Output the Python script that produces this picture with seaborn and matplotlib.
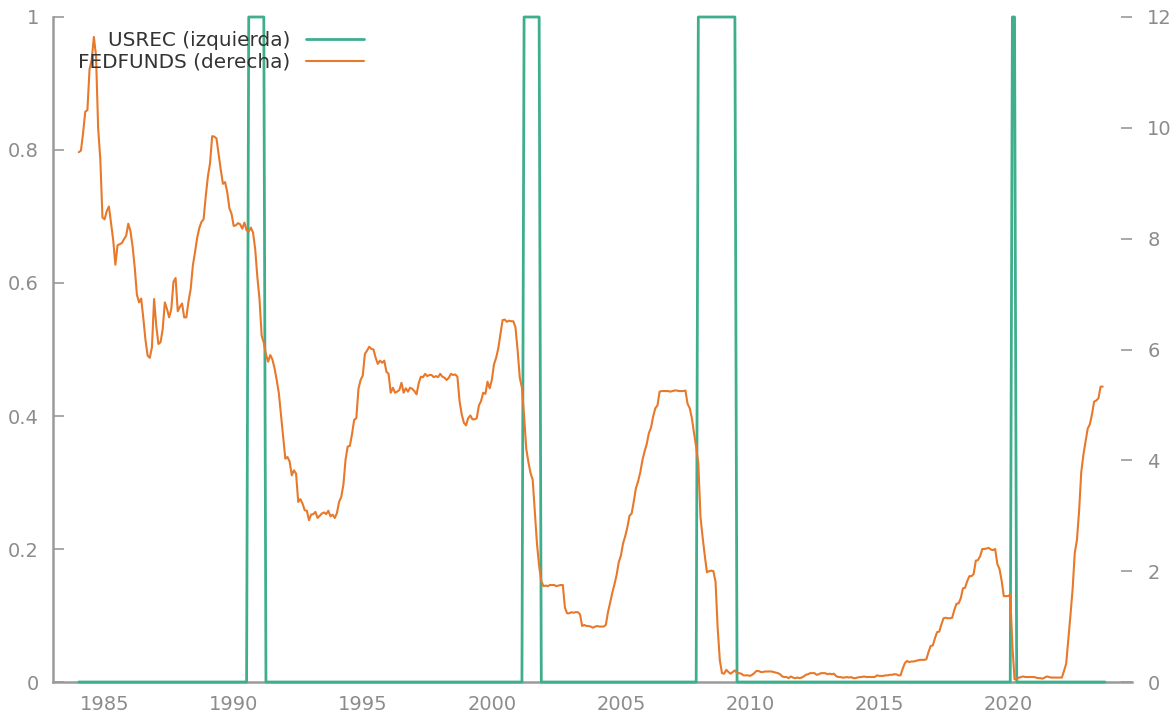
import numpy as np
import pandas as pd
import matplotlib
matplotlib.use("Agg")
import matplotlib.pyplot as plt
import seaborn as sns

# FEDFUNDS mensual (%), enero 1984 - agosto 2023
fedfunds = [
    9.56, 9.59, 9.91, 10.29, 10.32, 11.06, 11.23, 11.64, 11.30, 9.99, 9.43, 8.38,   # 1984
    8.35, 8.50, 8.58, 8.27, 7.97, 7.53, 7.88, 7.90, 7.92, 7.99, 8.05, 8.27,         # 1985
    8.14, 7.86, 7.48, 6.99, 6.85, 6.92, 6.56, 6.17, 5.89, 5.85, 6.04, 6.91,         # 1986
    6.43, 6.10, 6.13, 6.37, 6.85, 6.73, 6.58, 6.73, 7.22, 7.29, 6.69, 6.77,         # 1987
    6.83, 6.58, 6.58, 6.87, 7.09, 7.51, 7.75, 8.01, 8.19, 8.30, 8.35, 8.76,         # 1988
    9.12, 9.36, 9.85, 9.84, 9.81, 9.53, 9.24, 8.99, 9.02, 8.84, 8.55, 8.45,         # 1989
    8.23, 8.24, 8.28, 8.26, 8.18, 8.29, 8.15, 8.13, 8.20, 8.11, 7.81, 7.31,         # 1990
    6.91, 6.25, 6.12, 5.91, 5.78, 5.90, 5.82, 5.66, 5.45, 5.21, 4.81, 4.43,         # 1991
    4.03, 4.06, 3.98, 3.73, 3.82, 3.76, 3.25, 3.30, 3.22, 3.10, 3.09, 2.92,         # 1992
    3.02, 3.03, 3.07, 2.96, 3.00, 3.04, 3.06, 3.03, 3.09, 2.99, 3.02, 2.96,         # 1993
    3.05, 3.25, 3.34, 3.56, 4.01, 4.25, 4.26, 4.47, 4.73, 4.76, 5.29, 5.45,         # 1994
    5.53, 5.92, 5.98, 6.05, 6.01, 6.00, 5.85, 5.74, 5.80, 5.76, 5.80, 5.60,         # 1995
    5.56, 5.22, 5.31, 5.22, 5.24, 5.27, 5.40, 5.22, 5.30, 5.24, 5.31, 5.29,         # 1996
    5.25, 5.19, 5.39, 5.51, 5.50, 5.56, 5.52, 5.54, 5.54, 5.50, 5.52, 5.50,         # 1997
    5.56, 5.51, 5.49, 5.45, 5.49, 5.56, 5.54, 5.55, 5.51, 5.07, 4.83, 4.68,         # 1998
    4.63, 4.76, 4.81, 4.74, 4.74, 4.76, 4.99, 5.07, 5.22, 5.20, 5.42, 5.30,         # 1999
    5.45, 5.73, 5.85, 6.02, 6.27, 6.53, 6.54, 6.50, 6.52, 6.51, 6.51, 6.40,         # 2000
    5.98, 5.49, 5.31, 4.80, 4.21, 3.97, 3.77, 3.65, 3.07, 2.49, 2.09, 1.82,         # 2001
    1.73, 1.74, 1.73, 1.75, 1.75, 1.75, 1.73, 1.74, 1.75, 1.75, 1.34, 1.24,         # 2002
    1.24, 1.26, 1.25, 1.26, 1.26, 1.22, 1.01, 1.03, 1.01, 1.01, 1.00, 0.98,         # 2003
    1.00, 1.01, 1.00, 1.00, 1.00, 1.03, 1.26, 1.43, 1.61, 1.76, 1.93, 2.16,         # 2004
    2.28, 2.50, 2.63, 2.79, 3.00, 3.04, 3.26, 3.50, 3.62, 3.78, 4.00, 4.16,         # 2005
    4.29, 4.49, 4.59, 4.79, 4.94, 4.99, 5.24, 5.25, 5.25, 5.25, 5.25, 5.24,         # 2006
    5.25, 5.26, 5.26, 5.25, 5.25, 5.25, 5.26, 5.02, 4.94, 4.76, 4.49, 4.24,         # 2007
    3.94, 2.98, 2.61, 2.28, 1.98, 2.00, 2.01, 2.00, 1.81, 0.97, 0.39, 0.16,         # 2008
    0.15, 0.22, 0.18, 0.15, 0.18, 0.21, 0.16, 0.16, 0.15, 0.12, 0.12, 0.12,         # 2009
    0.11, 0.13, 0.16, 0.20, 0.20, 0.18, 0.18, 0.19, 0.19, 0.19, 0.19, 0.18,         # 2010
    0.17, 0.16, 0.14, 0.10, 0.09, 0.09, 0.07, 0.10, 0.08, 0.07, 0.08, 0.07,         # 2011
    0.08, 0.10, 0.13, 0.14, 0.16, 0.16, 0.16, 0.13, 0.14, 0.16, 0.16, 0.16,         # 2012
    0.14, 0.15, 0.14, 0.15, 0.11, 0.09, 0.09, 0.08, 0.08, 0.09, 0.08, 0.09,         # 2013
    0.07, 0.07, 0.08, 0.09, 0.09, 0.10, 0.09, 0.09, 0.09, 0.09, 0.09, 0.12,         # 2014
    0.11, 0.11, 0.11, 0.12, 0.12, 0.13, 0.13, 0.14, 0.14, 0.12, 0.12, 0.24,         # 2015
    0.34, 0.38, 0.36, 0.37, 0.37, 0.38, 0.39, 0.40, 0.40, 0.40, 0.41, 0.54,         # 2016
    0.65, 0.66, 0.79, 0.90, 0.91, 1.04, 1.15, 1.16, 1.15, 1.15, 1.16, 1.30,         # 2017
    1.41, 1.42, 1.51, 1.69, 1.70, 1.82, 1.91, 1.91, 1.95, 2.19, 2.20, 2.27,         # 2018
    2.40, 2.40, 2.41, 2.42, 2.39, 2.38, 2.40, 2.13, 2.04, 1.83, 1.55, 1.55,         # 2019
    1.55, 1.58, 0.65, 0.05, 0.05, 0.08, 0.09, 0.10, 0.09, 0.09, 0.09, 0.09,         # 2020
    0.09, 0.08, 0.07, 0.07, 0.06, 0.08, 0.10, 0.09, 0.08, 0.08, 0.08, 0.08,         # 2021
    0.08, 0.08, 0.20, 0.33, 0.77, 1.21, 1.68, 2.33, 2.56, 3.08, 3.78, 4.10,         # 2022
    4.33, 4.57, 4.65, 4.83, 5.06, 5.08, 5.12, 5.33, 5.33,                           # 2023
]

# recesiones USREC (primer y ultimo mes con valor 1)
rec_start = ["1990-08", "2001-04", "2008-01", "2020-03"]
rec_end = ["1991-03", "2001-11", "2009-06", "2020-04"]
usrec_last = "2023-10"

fechas = pd.date_range("1984-01-01", periods=len(fedfunds), freq="MS")
fechas_rec = pd.date_range("1984-01-01", usrec_last, freq="MS")
usrec = np.zeros(len(fechas_rec))
for a, b in zip(rec_start, rec_end):
    usrec[(fechas_rec >= pd.Timestamp(a)) & (fechas_rec <= pd.Timestamp(b))] = 1

def anio(d):
    return d.year + (d.month - 1) / 12.0

df_ff = pd.DataFrame({"x": anio(fechas), "FEDFUNDS": fedfunds})
df_rec = pd.DataFrame({"x": anio(fechas_rec), "USREC": usrec})

sns.set_style("white")
plt.rcParams["font.family"] = ["DejaVu Sans"]

verde = "#3fae8c"
naranja = "#e8782a"
gris = "#9a9a9a"

fig = plt.figure(figsize=(11.75, 7.17), dpi=100)
ax = fig.add_axes([0.0451, 0.0488, 0.9183, 0.9275])
ax2 = ax.twinx()

sns.lineplot(data=df_rec, x="x", y="USREC", ax=ax, color=verde, linewidth=2.0,
             label="USREC (izquierda)", legend=False)
sns.lineplot(data=df_ff, x="x", y="FEDFUNDS", ax=ax2, color=naranja, linewidth=1.5,
             label="FEDFUNDS (derecha)", legend=False)
for l in ax.lines + ax2.lines:
    l.set_clip_on(False)
ax.lines[0].set_zorder(3)

ax.set_xlim(1983.0, 2024.8)
ax.set_ylim(0, 1)
ax2.set_ylim(0, 12)
ax.set_xlabel("")
ax.set_ylabel("")
ax2.set_ylabel("")

ax.set_xticks([1985, 1990, 1995, 2000, 2005, 2010, 2015, 2020])
ax.set_yticks([0, 0.2, 0.4, 0.6, 0.8, 1])
ax.set_yticklabels(["0", "0.2", "0.4", "0.6", "0.8", "1"])
ax2.set_yticks([0, 2, 4, 6, 8, 10, 12])

for s in ["top", "right"]:
    ax.spines[s].set_visible(False)
for s in ["top", "right", "left", "bottom"]:
    ax2.spines[s].set_visible(False)
for s in ["left", "bottom"]:
    ax.spines[s].set_color(gris)
    ax.spines[s].set_linewidth(1.8)
    ax.spines[s].set_zorder(1)

ax.tick_params(axis="both", direction="in", length=8, width=1.2, color=gris,
               labelcolor="#8c8c8c", labelsize=14, pad=10)
ax.tick_params(axis="x", pad=9)
ax2.tick_params(axis="y", direction="in", length=8, width=1.2, color=gris,
                labelcolor="#8c8c8c", labelsize=14, pad=11)

h1, l1 = ax.get_legend_handles_labels()
h2, l2 = ax2.get_legend_handles_labels()
leg = ax2.legend(h1 + h2, l1 + l2, loc="upper left", bbox_to_anchor=(0.0155, 0.991),
                 frameon=False, markerfirst=False, fontsize=14.4, handlelength=2.9,
                 handletextpad=0.8, labelspacing=0.15, borderaxespad=0)
for t in leg.get_texts():
    t.set_color("#333333")

fig.savefig("out.png", dpi=100)
